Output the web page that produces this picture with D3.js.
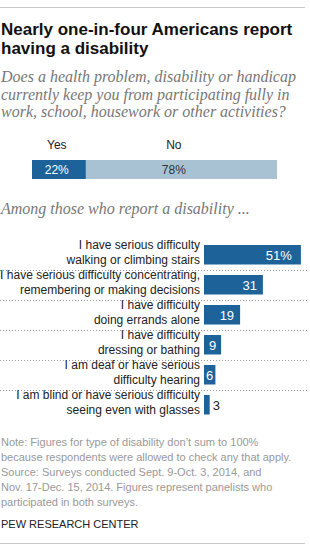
<!DOCTYPE html>
<html>
<head>
<meta charset="utf-8">
<script src="https://cdn.jsdelivr.net/npm/d3@7"></script>
<style>
  body { margin: 0; background: #fff; }
  svg text { font-family: "Liberation Sans", Arial, sans-serif; }
  .serif { font-family: "Liberation Serif", Georgia, serif !important; font-style: italic; }
</style>
</head>
<body>
<figure id="chart" style="margin:0"></figure>
<script>
// overall question
const answers = ["Yes", "No"];
const answerValues = [22, 78];

// type of disability, among those who report one
const categories = [
  "I have serious difficulty|walking or climbing stairs",
  "I have serious difficulty concentrating,|remembering or making decisions",
  "I have difficulty|doing errands alone",
  "I have difficulty|dressing or bathing",
  "I am deaf or have serious|difficulty hearing",
  "I am blind or have serious difficulty|seeing even with glasses"
];
const values = [51, 31, 19, 9, 6, 3];

const titleLines = ["Nearly one-in-four Americans report", "having a disability"];
const questionLines = [
  "Does a health problem, disability or handicap",
  "currently keep you from participating fully in",
  "work, school, housework or other activities?"
];
const noteLines = [
  "Note: Figures for type of disability don\u2019t sum to 100%",
  "because respondents were allowed to check any that apply.",
  "Source: Surveys conducted Sept. 9-Oct. 3, 2014, and",
  "Nov. 17-Dec. 15, 2014. Figures represent panelists who",
  "participated in both surveys."
];

const width = 310, height = 551;
const dark = "#1d6399", light = "#a9c2d3";

const svg = d3.select("#chart").append("svg")
  .attr("width", width)
  .attr("height", height);

// top and bottom rules
svg.append("line").attr("x1", 0).attr("x2", 305).attr("y1", 7.5).attr("y2", 7.5)
  .attr("stroke", "#c8c8c8").attr("stroke-width", 1);
svg.append("line").attr("x1", 0).attr("x2", 305).attr("y1", 543.5).attr("y2", 543.5)
  .attr("stroke", "#c8c8c8").attr("stroke-width", 1);

// title
svg.append("g").selectAll("text")
  .data(titleLines)
  .join("text")
  .attr("x", 1)
  .attr("y", (d, i) => 34.5 + i * 19)
  .attr("font-size", 17)
  .attr("font-weight", "bold")
  .attr("fill", "#111")
  .text(d => d);

// question
svg.append("g").selectAll("text")
  .data(questionLines)
  .join("text")
  .attr("class", "serif")
  .attr("x", 1)
  .attr("y", (d, i) => 82 + i * 17.5)
  .attr("font-size", 16)
  .attr("fill", "#777")
  .text(d => d);

// yes / no stacked bar
const xs = d3.scaleLinear().domain([0, 100]).range([32, 277]);
const starts = d3.cumsum([0].concat(answerValues)).slice(0, answerValues.length);
const stack = answers.map((a, i) => ({ key: a, v: answerValues[i], s: starts[i] }));

const yn = svg.append("g");
yn.selectAll("rect")
  .data(stack)
  .join("rect")
  .attr("x", d => xs(d.s))
  .attr("y", 160)
  .attr("width", d => xs(d.s + d.v) - xs(d.s))
  .attr("height", 19)
  .attr("fill", (d, i) => i == 0 ? dark : light);

yn.selectAll("text.lab")
  .data(stack)
  .join("text")
  .attr("class", "lab")
  .attr("x", d => xs(d.s + d.v * 0.46))
  .attr("y", 149)
  .attr("text-anchor", "middle")
  .attr("font-size", 12)
  .attr("fill", "#222")
  .text(d => d.key);

yn.selectAll("text.val")
  .data(stack)
  .join("text")
  .attr("class", "val")
  .attr("x", d => xs(d.s + d.v * 0.46))
  .attr("y", 174)
  .attr("text-anchor", "middle")
  .attr("font-size", 12)
  .attr("fill", (d, i) => i == 0 ? "#fff" : "#333")
  .text(d => d.v + "%");

svg.append("text")
  .attr("class", "serif")
  .attr("x", 1)
  .attr("y", 213.5)
  .attr("font-size", 16)
  .attr("fill", "#777")
  .text("Among those who report a disability ...");

// disability types
const x = d3.scaleLinear().domain([0, 100]).range([0, 190]);
const x0 = 204;
const y = d3.scaleBand().domain(categories).range([240, 420]);

const rows = svg.append("g");

// dotted separators
rows.selectAll("line")
  .data(categories.slice(0, -1))
  .join("line")
  .attr("x1", 0)
  .attr("x2", 308)
  .attr("y1", d => y(d) + y.bandwidth() + 0.5)
  .attr("y2", d => y(d) + y.bandwidth() + 0.5)
  .attr("stroke", "#9a9a9a")
  .attr("stroke-dasharray", "1,2");

rows.selectAll("rect")
  .data(categories)
  .join("rect")
  .attr("x", x0)
  .attr("y", d => y(d) + 5)
  .attr("width", (d, i) => x(values[i]))
  .attr("height", 19.5)
  .attr("fill", dark);

// category labels, two lines each
rows.selectAll("text.cat")
  .data(categories)
  .join("text")
  .attr("class", "cat")
  .attr("text-anchor", "end")
  .attr("font-size", 12)
  .attr("fill", "#222")
  .selectAll("tspan")
  .data(d => d.split("|").map((t, j) => ({ t, j, d })))
  .join("tspan")
  .attr("x", 200)
  .attr("y", p => y(p.d) + 8.5 + p.j * 15)
  .text(p => p.t);

// value labels
rows.selectAll("text.num")
  .data(categories)
  .join("text")
  .attr("class", "num")
  .attr("font-size", 13)
  .attr("y", d => y(d) + 19.5)
  .each(function(d, i) {
    const w = x(values[i]);
    const t = d3.select(this).text(i == 0 ? values[i] + "%" : values[i]);
    if (w > 30) {
      t.attr("x", x0 + w - (i == 0 ? 9 : 6)).attr("text-anchor", "end").attr("fill", "#fff");
    } else if (w > 9) {
      t.attr("x", x0 + w / 2).attr("text-anchor", "middle").attr("fill", "#fff");
    } else {
      t.attr("x", x0 + w + 3).attr("text-anchor", "start").attr("fill", "#222");
    }
  });

// notes
svg.append("g").selectAll("text")
  .data(noteLines)
  .join("text")
  .attr("x", 1)
  .attr("y", (d, i) => 445.5 + i * 15)
  .attr("font-size", 11)
  .attr("fill", "#999")
  .text(d => d);

svg.append("text")
  .attr("x", 1)
  .attr("y", 527.5)
  .attr("font-size", 11)
  .attr("fill", "#222")
  .text("PEW RESEARCH CENTER");
</script>
</body>
</html>
